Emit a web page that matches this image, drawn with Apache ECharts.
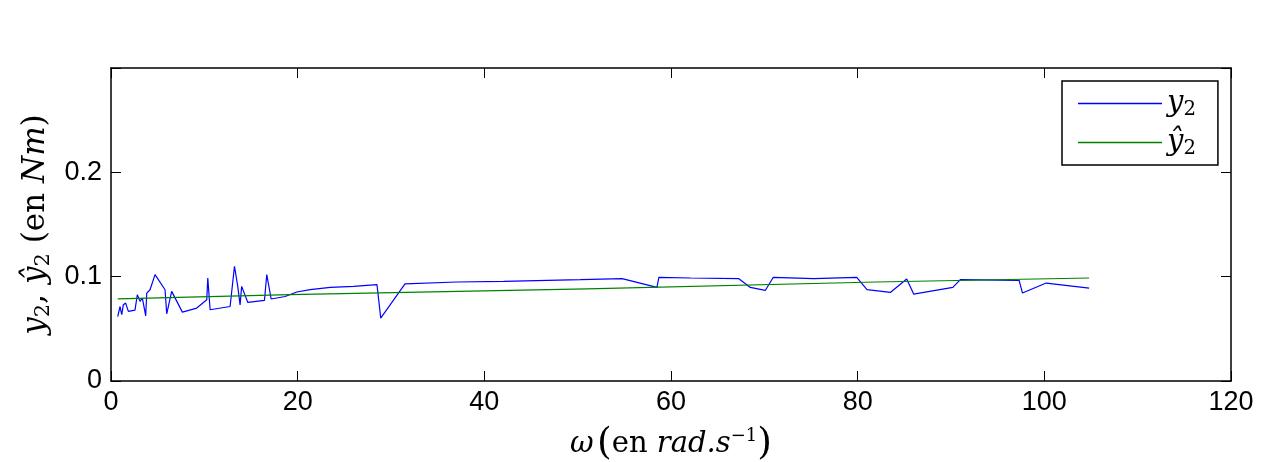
<!DOCTYPE html>
<html>
<head>
<meta charset="utf-8">
<script src="https://cdn.jsdelivr.net/npm/echarts@6/dist/echarts.min.js"></script>
<style>
  html, body { margin: 0; padding: 0; background: #fff; }
  #chart { width: 1276px; height: 462px; }
</style>
</head>
<body>
<div id="chart"></div>
<script>
// mesures y2 en fonction de omega
var omega = [0.72, 0.97, 1.15, 1.32, 1.57, 1.86, 2.57, 2.82, 3.11, 3.36, 3.57, 3.72, 3.83, 4.18, 4.72,
  5.79, 5.97, 6.5, 7.65, 9.19, 10.26, 10.37, 10.62, 12.76, 13.23, 13.58, 13.83, 14.0, 14.66, 16.44,
  16.69, 17.16, 18.66, 19.9, 21.34, 23.5, 26.0, 28.5, 28.9, 31.5, 37.07, 42.07, 50.3, 54.76, 58.5,
  58.7, 62.1, 67.27, 68.5, 70.1, 70.96, 75.3, 79.9, 81.0, 83.5, 85.25, 86.0, 90.2, 91.0, 97.3,
  97.66, 100.2, 104.8];
var y2 = [0.0618, 0.0714, 0.0635, 0.073, 0.0747, 0.0667, 0.068, 0.0827, 0.0763, 0.0795, 0.0779, 0.0625, 0.0843, 0.0875, 0.102,
  0.0875, 0.0644, 0.0859, 0.066, 0.0699, 0.0779, 0.0987, 0.0683, 0.0714, 0.11, 0.0907, 0.073, 0.0907, 0.0753, 0.0772,
  0.102, 0.0786, 0.081, 0.0853, 0.0875, 0.0897, 0.0907, 0.0923, 0.0603, 0.093, 0.0949, 0.0955, 0.0971, 0.0981, 0.0897,
  0.0994, 0.0987, 0.0981, 0.0897, 0.0868, 0.0994, 0.0981, 0.0994, 0.0875, 0.0849, 0.0978, 0.0833, 0.0897, 0.0971, 0.0965,
  0.0843, 0.0939, 0.0891];
// modele estime
var omegaHat = [0.72, 19.2, 51.0, 82.0, 104.8];
var y2Hat = [0.0788, 0.0827, 0.0883, 0.0949, 0.0987];

var xTicks = [0, 20, 40, 60, 80, 100, 120];
var yTicks = [0, 0.1, 0.2];

function pairs(xs, ys) {
  var out = [];
  for (var i = 0; i < xs.length; i++) out.push([xs[i], ys[i]]);
  return out;
}

var serif = '"DejaVu Serif", "Liberation Serif", serif';
function mathRich(size) {
  return {
    r: { fontFamily: serif, fontSize: size, color: '#000' },
    i: { fontFamily: serif, fontStyle: 'italic', fontSize: size, color: '#000' },
    p: { fontFamily: serif, fontSize: size * 1.3, color: '#000' },
    sub: { fontFamily: serif, fontSize: size * 0.68, color: '#000', padding: [size * 0.45, 0, 0, 0] },
    sup: { fontFamily: serif, fontSize: size * 0.62, color: '#000', padding: [0, 0, size * 0.55, 0] }
  };
}

var myChart = echarts.init(document.getElementById('chart'));
var axisLine = { show: true, onZero: false, lineStyle: { color: '#000', width: 1.5 } };
var tickStyle = { inside: true, length: 10, lineStyle: { color: '#000', width: 1 } };
var sansLabel = { fontFamily: '"Liberation Sans", Arial, sans-serif', fontSize: 27, color: '#000' };

var option = {
  animation: false,
  backgroundColor: '#fff',
  grid: { left: 111, right: 45, top: 68, bottom: 81, outerBoundsMode: 'none', containLabel: false },
  legend: {
    orient: 'vertical',
    left: 1062,
    top: 81,
    padding: [8, 22, 6, 16],
    itemGap: 8,
    itemWidth: 84,
    itemHeight: 1.5,
    borderColor: '#000',
    borderWidth: 1.5,
    data: [
      { name: 'y2', icon: 'rect', itemStyle: { color: '#0000ff', borderWidth: 0 } },
      { name: 'yhat2', icon: 'rect', itemStyle: { color: '#008000', borderWidth: 0 } }
    ],
    formatter: function (name) {
      return name === 'y2' ? '{i|y}{sub|2}' : '{i|ŷ}{sub|2}';
    },
    textStyle: { rich: mathRich(29) }
  },
  xAxis: [{
    type: 'value', min: 0, max: 120, interval: 20,
    axisLine: axisLine, axisTick: tickStyle, splitLine: { show: false },
    axisLabel: Object.assign({ margin: 8 }, sansLabel, {
      formatter: function (v) { return xTicks.indexOf(v) >= 0 ? String(v) : ''; }
    }),
    name: '{i|ω} {p|(}{r|en }{i|rad.s}{sup|−1}{p|)}',
    nameLocation: 'middle', nameGap: 44,
    nameTextStyle: { rich: mathRich(29) }
  }, {
    type: 'value', min: 0, max: 120, interval: 20, position: 'top',
    axisLine: axisLine, axisTick: tickStyle, axisLabel: { show: false }, splitLine: { show: false }
  }],
  yAxis: [{
    type: 'value', min: 0, max: 0.3, interval: 0.1,
    axisLine: axisLine, axisTick: tickStyle, splitLine: { show: false },
    axisLabel: Object.assign({ margin: 9 }, sansLabel, {
      formatter: function (v) {
        for (var k = 0; k < yTicks.length; k++) if (Math.abs(v - yTicks[k]) < 1e-9) return String(yTicks[k]);
        return '';
      }
    }),
    name: '{i|y}{sub|2}{r|, }{i|ŷ}{sub|2}{r| (en }{i|Nm}{r|)}',
    nameLocation: 'middle', nameGap: 56, nameRotate: 90,
    nameTextStyle: { rich: mathRich(31) }
  }, {
    type: 'value', min: 0, max: 0.3, interval: 0.1, position: 'right',
    axisLine: axisLine, axisTick: tickStyle, axisLabel: { show: false }, splitLine: { show: false }
  }],
  series: [{
    name: 'y2', type: 'line', data: pairs(omega, y2),
    showSymbol: false, symbol: 'none',
    lineStyle: { color: '#0000ff', width: 1.2 }, itemStyle: { color: '#0000ff' }
  }, {
    name: 'yhat2', type: 'line', data: pairs(omegaHat, y2Hat),
    showSymbol: false, symbol: 'none',
    lineStyle: { color: '#008000', width: 1.2 }, itemStyle: { color: '#008000' }
  }]
};

myChart.setOption(option);
</script>
</body>
</html>
